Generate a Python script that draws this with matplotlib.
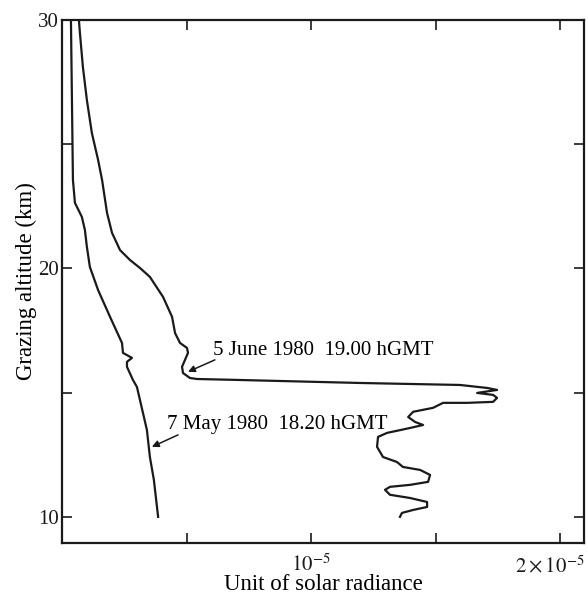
import matplotlib
matplotlib.use("Agg")
from matplotlib import pyplot as plt

plt.rcParams['font.family'] = ['Liberation Serif', 'DejaVu Serif']
plt.rcParams['mathtext.fontset'] = 'stix'

# 5 June 1980 19.00 hGMT  (x in units of 1e-5, altitude in km)
june_x = [0.068, 0.072, 0.084, 0.100, 0.120, 0.145, 0.161, 0.181, 0.201, 0.233,
          0.273, 0.313, 0.353, 0.406, 0.442, 0.454, 0.474, 0.502, 0.506, 0.494,
          0.482, 0.486, 0.514, 0.542, 0.715, 1.197, 1.598, 1.707, 1.747, 1.667,
          1.731, 1.747, 1.731, 1.627, 1.530, 1.490, 1.410, 1.390, 1.418, 1.450,
          1.398, 1.305, 1.269, 1.265, 1.289, 1.345, 1.369, 1.438, 1.478, 1.470,
          1.398, 1.317, 1.297, 1.317, 1.398, 1.466, 1.466, 1.410, 1.365, 1.357]
june_alt = [30.00, 29.48, 28.11, 26.78, 25.45, 24.37, 23.56, 22.23, 21.43, 20.74,
            20.34, 20.02, 19.66, 18.85, 18.05, 17.40, 17.00, 16.80, 16.60, 16.32,
            16.04, 15.79, 15.59, 15.55, 15.51, 15.39, 15.31, 15.19, 15.11, 14.99,
            14.91, 14.79, 14.63, 14.59, 14.59, 14.39, 14.23, 14.02, 13.82, 13.70,
            13.58, 13.38, 13.22, 12.82, 12.41, 12.21, 12.01, 11.89, 11.69, 11.41,
            11.29, 11.21, 11.09, 10.89, 10.76, 10.60, 10.40, 10.28, 10.16, 10.00]

# 7 May 1980 18.20 hGMT
may_x = [0.036, 0.040, 0.044, 0.052, 0.080, 0.092, 0.100, 0.112, 0.145, 0.193,
         0.241, 0.245, 0.281, 0.261, 0.261, 0.285, 0.301, 0.341, 0.353, 0.369,
         0.386]
may_alt = [30.00, 26.78, 23.56, 22.64, 22.07, 21.55, 20.87, 20.06, 19.13, 18.05,
           17.00, 16.60, 16.40, 16.24, 16.04, 15.51, 15.23, 13.50, 12.41, 11.49,
           10.00]

x_ticks = [0.5, 1.0, 1.5, 2.0]
x_labels = ['', r'$10^{-5}$', '', '']
y_ticks = [10, 15, 20, 25, 30]
y_labels = ['10', '', '20', '', '30']

fig = plt.figure(figsize=(5.88, 5.98), dpi=100)
ax = fig.add_axes([0.1054, 0.092, 0.8878, 0.8746])

ax.plot(june_x, june_alt, color='#1a1a1a', lw=1.6, solid_joinstyle='round')
ax.plot(may_x, may_alt, color='#1a1a1a', lw=1.6, solid_joinstyle='round')

ax.set_xlim(0, 2.096)
ax.set_ylim(8.95, 30)
ax.set_xticks(x_ticks)
ax.set_xticklabels(x_labels)
ax.set_yticks(y_ticks)
ax.set_yticklabels(y_labels)
ax.tick_params(direction='in', length=7, width=1.2, top=True, right=True,
               labelsize=15, colors='#1a1a1a')
ax.tick_params(axis='x', pad=8)
ax.tick_params(axis='y', pad=2)
for s in ax.spines.values():
    s.set_linewidth(1.6)
    s.set_color('#1a1a1a')

# right-hand tick label, kept inside the figure
ax.text(1.96, -0.025, r'$2\times10^{-5}$', transform=ax.get_xaxis_transform(),
        fontsize=15, ha='center', va='top', color='#1a1a1a')

ax.set_xlabel('Unit of solar radiance', fontsize=16.5, labelpad=-1)
ax.set_ylabel('Grazing altitude (km)', fontsize=16.5, labelpad=1)

# curve labels with small filled arrows
ax.text(0.606, 16.52, '5 June 1980  19.00 hGMT', fontsize=15, va='baseline')
ax.annotate('', xy=(0.506, 15.84), xytext=(0.614, 16.32),
            arrowprops=dict(arrowstyle='-|>', color='#1a1a1a', lw=1.1,
                            mutation_scale=10, shrinkA=0, shrinkB=0))
ax.text(0.422, 13.54, '7 May 1980  18.20 hGMT', fontsize=15, va='baseline')
ax.annotate('', xy=(0.361, 12.82), xytext=(0.466, 13.30),
            arrowprops=dict(arrowstyle='-|>', color='#1a1a1a', lw=1.1,
                            mutation_scale=10, shrinkA=0, shrinkB=0))

plt.savefig('out.png', dpi=100)
